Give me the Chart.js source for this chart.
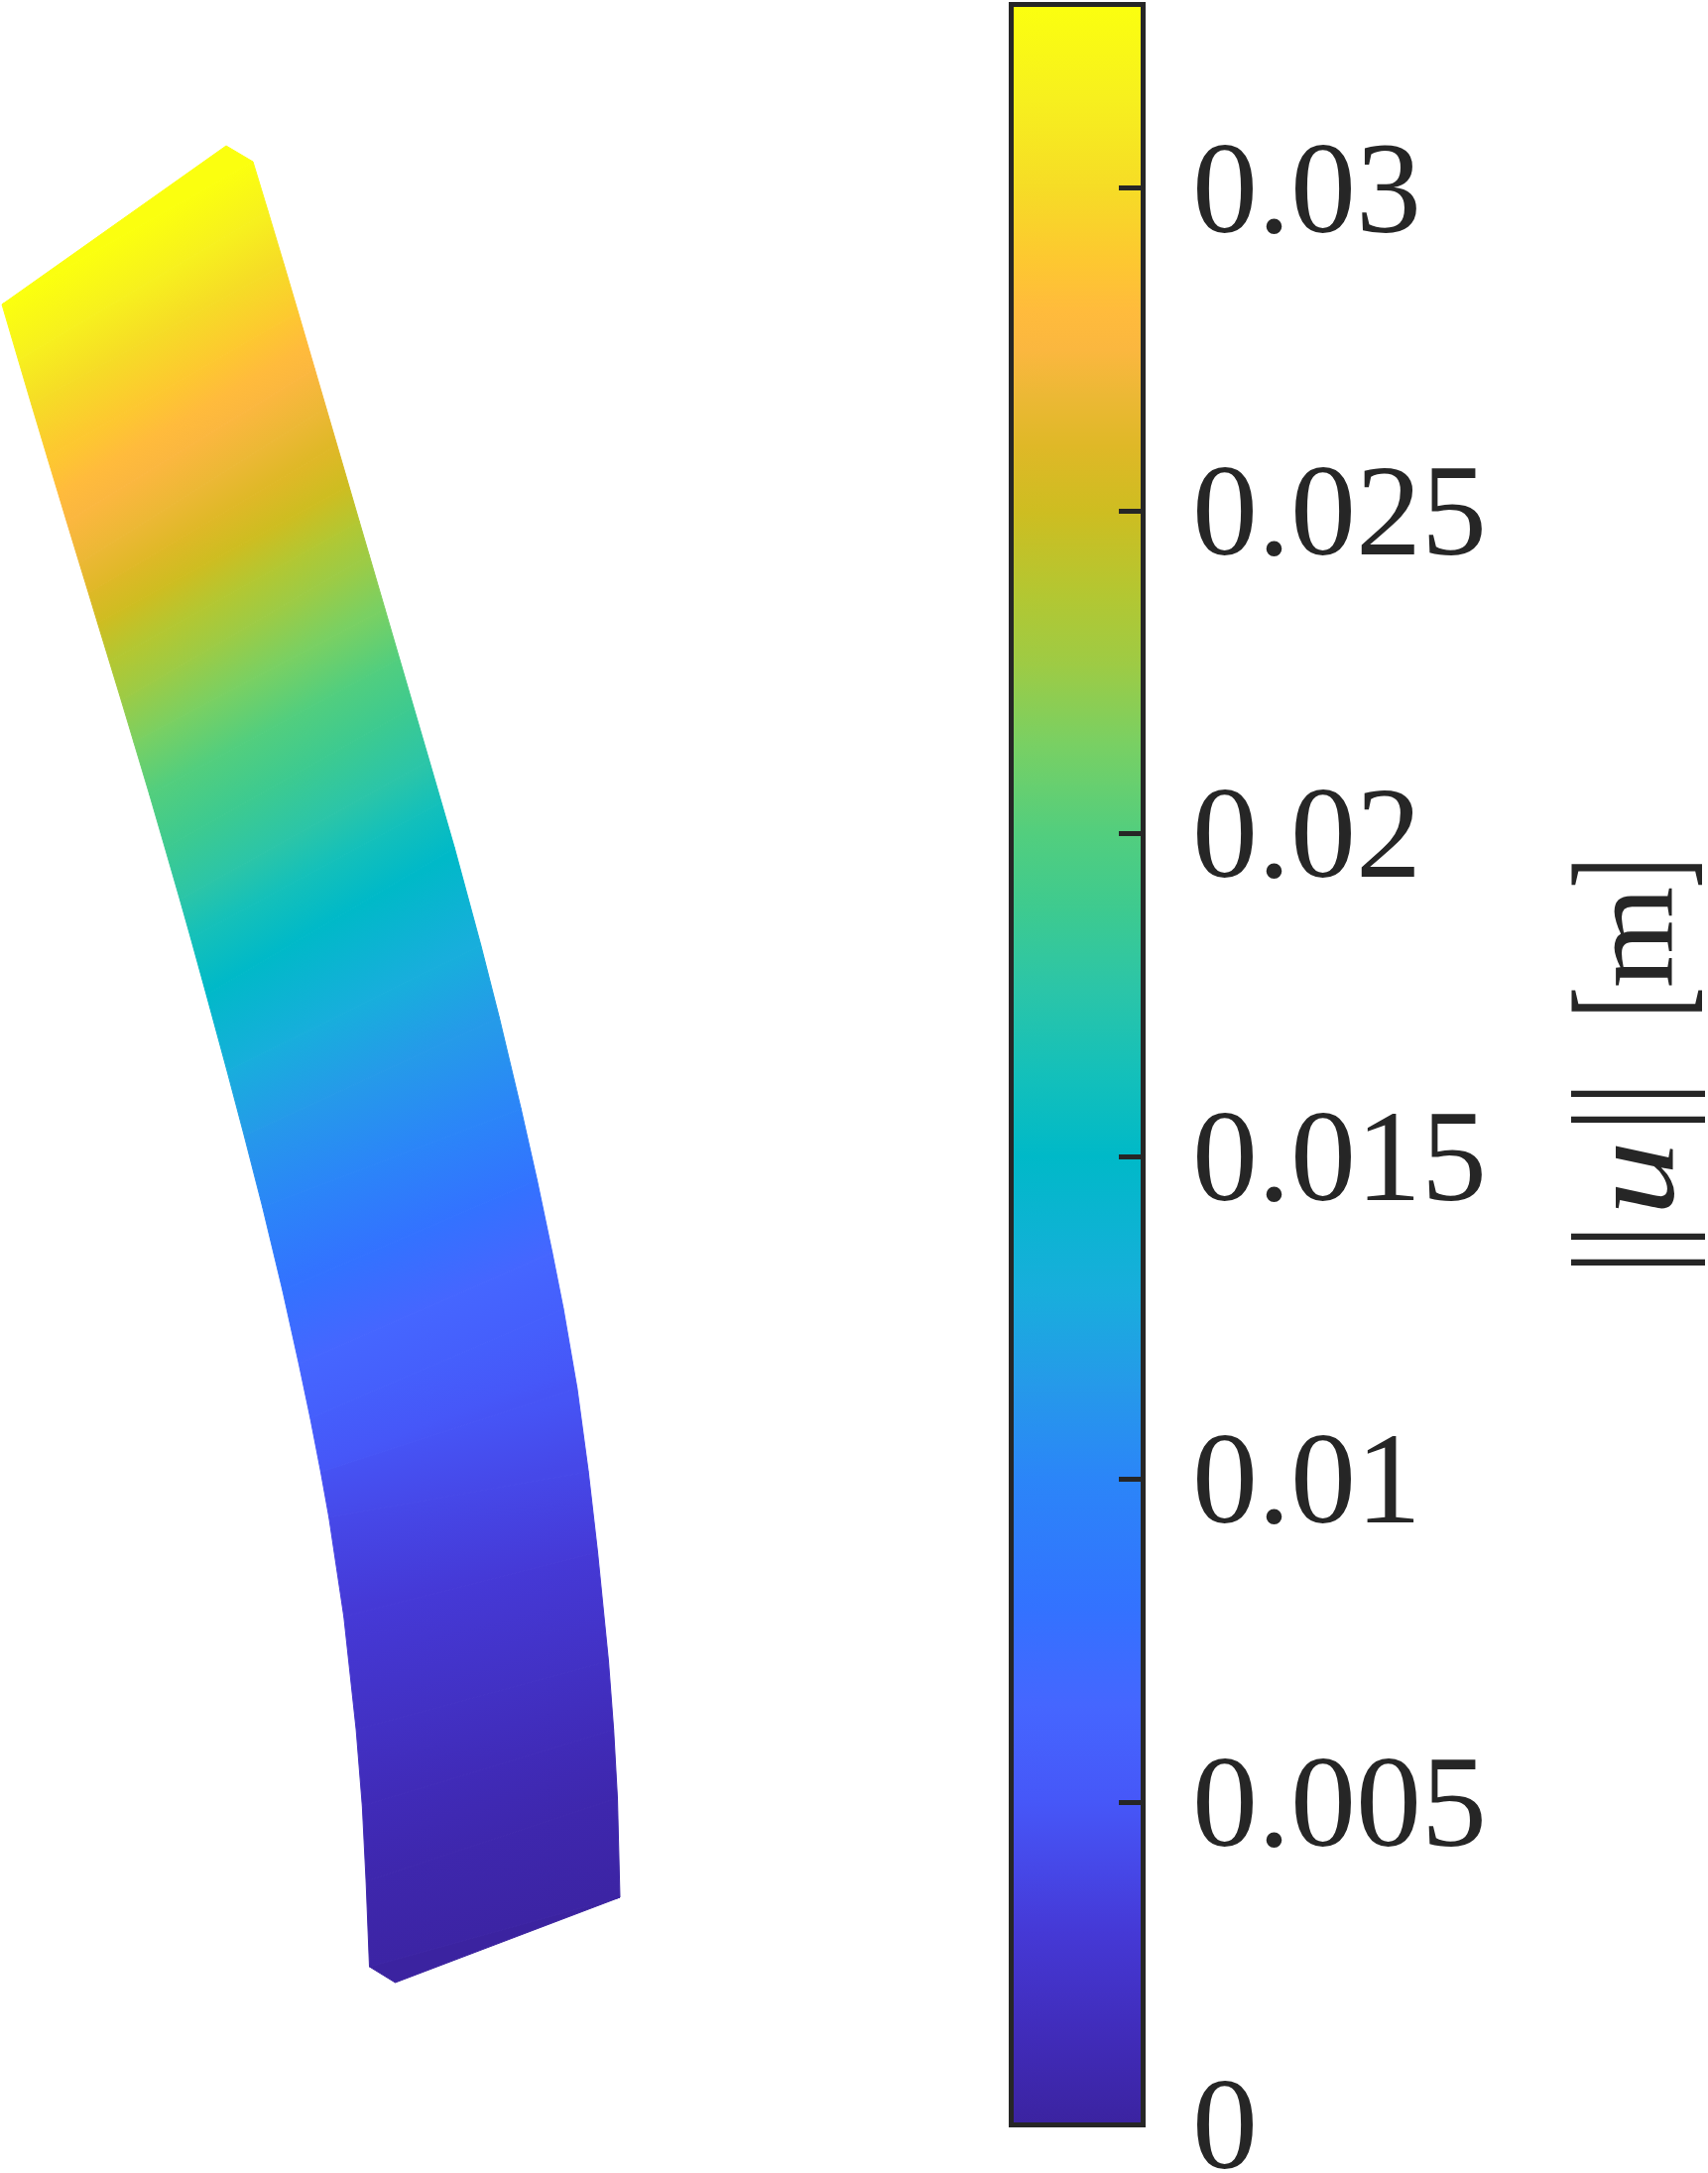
<!DOCTYPE html>
<html>
<head>
<meta charset="utf-8">
<title>Displacement</title>
<script src="https://cdn.jsdelivr.net/npm/chart.js@4"></script>
<style>
    html, body { margin: 0; padding: 0; background: #fff; }
    #beam { position: absolute; left: 0; top: 0; }
    #bar { position: absolute; left: 1000px; top: 0; }
</style>
</head>
<body>
<canvas id="beam" width="1000" height="2191"></canvas>
<canvas id="bar" width="722" height="2191"></canvas>
<script>
// colour bar
const tickValues = [0, 0.005, 0.01, 0.015, 0.02, 0.025, 0.03];
const tickLabels = ['0', '0.005', '0.01', '0.015', '0.02', '0.025', '0.03'];
const maxValue = 0.03285;

// colormap
const mapValues = [0, 0.0013, 0.003, 0.004, 0.005, 0.0065, 0.008, 0.01, 0.0115, 0.0129, 0.015, 0.0163, 0.0176, 0.0188, 0.02,
    0.0214, 0.0226, 0.0237, 0.025, 0.026, 0.0268, 0.0275, 0.0281, 0.0289, 0.03, 0.0314, 0.03285];
const mapColors = ['#3b23a0', '#402bb8', '#4539d6', '#4648e8', '#4657f8', '#4566ff', '#3372ff', '#2b85f8', '#259ae9', '#18aedc', '#00b9c8', '#14c0ba', '#2bc5a8', '#3dca90', '#52ce7e',
    '#79d063', '#9dcb45', '#b3c732', '#cebd21', '#dfb827', '#ecb835', '#fbb73f', '#ffbb3c', '#fdc830', '#f6dc26', '#f7f01e', '#fbff0f'];

// beam: lines of equal displacement, left edge to right edge
const sectionValues = [0.03285, 0.0314, 0.03, 0.0289, 0.0275, 0.0268, 0.026, 0.025, 0.0237, 0.0226, 0.0214, 0.02, 0.0188, 0.0176, 0.0163, 0.015,
    0.0129, 0.0115, 0.01, 0.008, 0.0065, 0.0058, 0.0048, 0.004, 0.003, 0.002, 0.0013, 0.0007, 0.0002];
const leftX = [2, 18.5, 31.5, 47.7, 67.3, 80.1, 89.3, 98.4, 110.3, 122.2, 134.8, 150.7, 166.4, 181.4, 192.4, 208.1,
    229, 246.2, 264.7, 284.9, 301.3, 312.9, 323.4, 331.7, 346.7, 359.1, 365.3, 369.1, 372.5];
const leftY = [307, 363, 407, 461, 526, 568, 598, 628, 667, 706, 748, 801, 855, 907, 946, 1003,
    1080, 1145, 1217, 1301, 1375, 1430, 1484, 1530, 1630, 1744, 1821, 1897, 1983];
const rightX = [255, 270.2, 286.4, 300.6, 317.3, 328.7, 339.8, 351.8, 362.3, 372.3, 388.1, 402.7, 417, 432.8, 445, 458.3,
    484.8, 503.4, 525.3, 541.5, 556.8, 568.1, 581.9, 593.2, 602.5, 613.5, 618.7, 622.5, 625];
const rightY = [163, 213, 267, 315, 372, 411, 449, 490, 526, 560, 614, 664, 713, 767, 809, 855,
    953, 1026, 1118, 1190, 1263, 1320, 1400, 1484, 1565, 1675, 1744, 1813, 1913];

// small facets at the two ends of the beam
const topCapX = [2, 228, 255];
const topCapY = [307, 147, 163];
const bottomCapX = [372.5, 398.5, 625];
const bottomCapY = [1983, 1999, 1913];

const inkColor = '#262626';
const tickFont = { family: '"Liberation Serif"', size: 132 };

function hexToRgb(hex) {
    return [1, 3, 5].map(function(i) { return parseInt(hex.substr(i, 2), 16); });
}

function colorAt(value) {
    let i = 0;
    while (i < mapValues.length - 2 && value > mapValues[i + 1]) i++;
    const t = Math.min(1, Math.max(0, (value - mapValues[i]) / (mapValues[i + 1] - mapValues[i])));
    const a = hexToRgb(mapColors[i]);
    const b = hexToRgb(mapColors[i + 1]);
    return 'rgb(' + a.map(function(c, k) { return Math.round(c + (b[k] - c) * t); }).join(',') + ')';
}

// gradient for the cell between section i and i + 1, running across the lines of equal value
function cellGradient(chart, i) {
    const sx = chart.scales.x;
    const sy = chart.scales.y;
    const p = function(x, y) { return [sx.getPixelForValue(x), sy.getPixelForValue(y)]; };
    const l0 = p(leftX[i], leftY[i]), r0 = p(rightX[i], rightY[i]);
    const l1 = p(leftX[i + 1], leftY[i + 1]), r1 = p(rightX[i + 1], rightY[i + 1]);
    // scales have no size yet on the very first option pass
    if (!isFinite(l0[0]) || !isFinite(l0[1])) return colorAt(sectionValues[i]);
    const len0 = Math.hypot(r0[0] - l0[0], r0[1] - l0[1]);
    const len1 = Math.hypot(r1[0] - l1[0], r1[1] - l1[1]);
    const dx = (r0[0] - l0[0]) / len0 + (r1[0] - l1[0]) / len1;
    const dy = (r0[1] - l0[1]) / len0 + (r1[1] - l1[1]) / len1;
    const dLen = Math.hypot(dx, dy);
    const nx = -dy / dLen, ny = dx / dLen;
    const m0 = [(l0[0] + r0[0]) / 2, (l0[1] + r0[1]) / 2];
    const m1 = [(l1[0] + r1[0]) / 2, (l1[1] + r1[1]) / 2];
    const dist = (m1[0] - m0[0]) * nx + (m1[1] - m0[1]) * ny;
    const g = chart.ctx.createLinearGradient(m0[0], m0[1], m0[0] + nx * dist, m0[1] + ny * dist);
    const v0 = sectionValues[i], v1 = sectionValues[i + 1];
    g.addColorStop(0, colorAt(v0));
    mapValues.forEach(function(v) {
        if (v < v0 && v > v1) g.addColorStop((v0 - v) / (v0 - v1), colorAt(v));
    });
    g.addColorStop(1, colorAt(v1));
    return g;
}

const beamDatasets = [];
for (let i = 0; i < sectionValues.length - 1; i++) {
    const paint = function(ctx) { return cellGradient(ctx.chart, i); };
    beamDatasets.push({
        data: [
            { x: leftX[i], y: leftY[i] },
            { x: rightX[i], y: rightY[i] },
            { x: rightX[i + 1], y: rightY[i + 1] },
            { x: leftX[i + 1], y: leftY[i + 1] },
            { x: leftX[i], y: leftY[i] }
        ],
        showLine: true,
        fill: 'shape',
        backgroundColor: paint,
        borderColor: paint,
        borderWidth: 1,
        pointRadius: 0,
        clip: false
    });
}

function capDataset(xs, ys, value) {
    const pts = xs.map(function(x, i) { return { x: x, y: ys[i] }; });
    pts.push(pts[0]);
    return {
        data: pts,
        showLine: true,
        fill: 'shape',
        backgroundColor: colorAt(value),
        borderColor: colorAt(value),
        borderWidth: 1,
        pointRadius: 0,
        clip: false
    };
}
beamDatasets.push(capDataset(topCapX, topCapY, maxValue));
beamDatasets.push(capDataset(bottomCapX, bottomCapY, 0));

new Chart(document.getElementById('beam'), {
    type: 'scatter',
    data: { datasets: beamDatasets },
    options: {
        responsive: false,
        animation: false,
        devicePixelRatio: 1,
        layout: { padding: 0 },
        elements: { line: { tension: 0 } },
        plugins: { legend: { display: false }, tooltip: { enabled: false } },
        scales: {
            x: { type: 'linear', display: false, min: 0, max: 1000 },
            y: { type: 'linear', display: false, min: 0, max: 2191, reverse: true }
        }
    }
});

// axis title, set piece by piece because it mixes roman, italic and tall bars
const barFont = '148px "Liberation Serif"';
const titleParts = [
    { text: '|', font: barFont, x: 687, y: 1273, along: 0.85, across: 1 },
    { text: '|', font: barFont, x: 687, y: 1247, along: 0.85, across: 1 },
    { text: 'u', font: 'italic 132px "Liberation Serif"', x: 687, y: 1188, along: 1.15, across: 0.95 },
    { text: '|', font: barFont, x: 687, y: 1129, along: 0.85, across: 1 },
    { text: '|', font: barFont, x: 687, y: 1103, along: 0.85, across: 1 },
    { text: '[', font: '158px "Liberation Serif"', x: 695, y: 1011, along: 0.6, across: 1 },
    { text: 'm', font: '132px "Liberation Serif"', x: 686, y: 945, along: 1, across: 0.93 },
    { text: ']', font: '158px "Liberation Serif"', x: 695, y: 880, along: 0.6, across: 1 }
];

const axisTitle = {
    id: 'axisTitle',
    afterDraw: function(chart) {
        const ctx = chart.ctx;
        titleParts.forEach(function(part) {
            ctx.save();
            ctx.translate(part.x, part.y);
            ctx.rotate(-Math.PI / 2);
            ctx.scale(part.along, part.across);
            ctx.font = part.font;
            ctx.fillStyle = inkColor;
            ctx.textAlign = 'center';
            ctx.textBaseline = 'alphabetic';
            ctx.fillText(part.text, 0, 0);
            ctx.restore();
        });
    }
};

function frameScale(extra) {
    return Object.assign({
        display: true,
        grid: { display: true, drawOnChartArea: false, drawTicks: false, z: 1 },
        border: { display: true, width: 5, color: inkColor, z: 1 },
        ticks: { display: false }
    }, extra);
}

new Chart(document.getElementById('bar'), {
    type: 'bar',
    data: {
        labels: ['u'],
        datasets: [{
            data: [[0, maxValue]],
            xAxisID: 'x',
            yAxisID: 'y',
            barPercentage: 1,
            categoryPercentage: 1,
            borderWidth: 0,
            backgroundColor: function(ctx) {
                const y = ctx.chart.scales.y;
                const y0 = y.getPixelForValue(0), y1 = y.getPixelForValue(maxValue);
                if (!isFinite(y0) || !isFinite(y1)) return mapColors[0];
                const g = ctx.chart.ctx.createLinearGradient(0, y0, 0, y1);
                mapValues.forEach(function(v, i) { g.addColorStop(v / maxValue, mapColors[i]); });
                return g;
            }
        }]
    },
    options: {
        responsive: false,
        animation: false,
        devicePixelRatio: 1,
        layout: { padding: { left: 19.5, top: 4.5, right: 0, bottom: 48.5 } },
        plugins: { legend: { display: false }, tooltip: { enabled: false } },
        scales: {
            x: frameScale({
                type: 'category',
                position: 'bottom',
                afterFit: function(s) { s.height = 0; }
            }),
            xTop: frameScale({
                type: 'linear',
                position: 'top',
                min: 0,
                max: 1,
                afterFit: function(s) { s.height = 0; }
            }),
            yLeft: frameScale({
                type: 'linear',
                position: 'left',
                min: 0,
                max: maxValue,
                afterFit: function(s) { s.width = 0; s.paddingTop = 0; s.paddingBottom = 0; }
            }),
            y: {
                type: 'linear',
                position: 'right',
                min: 0,
                max: maxValue,
                afterBuildTicks: function(s) { s.ticks = tickValues.map(function(v) { return { value: v }; }); },
                afterFit: function(s) { s.width = 569.5; s.paddingTop = 0; s.paddingBottom = 0; },
                grid: { display: true, drawOnChartArea: false, drawTicks: true, tickLength: -24.5, tickWidth: 5, tickColor: inkColor, z: 1 },
                border: { display: true, width: 5, color: inkColor, z: 1 },
                ticks: {
                    autoSkip: false,
                    maxRotation: 0,
                    padding: 74,
                    labelOffset: 9,
                    color: inkColor,
                    font: tickFont,
                    callback: function(value, i) { return tickLabels[i]; }
                }
            }
        }
    },
    plugins: [axisTitle]
});
</script>
</body>
</html>
